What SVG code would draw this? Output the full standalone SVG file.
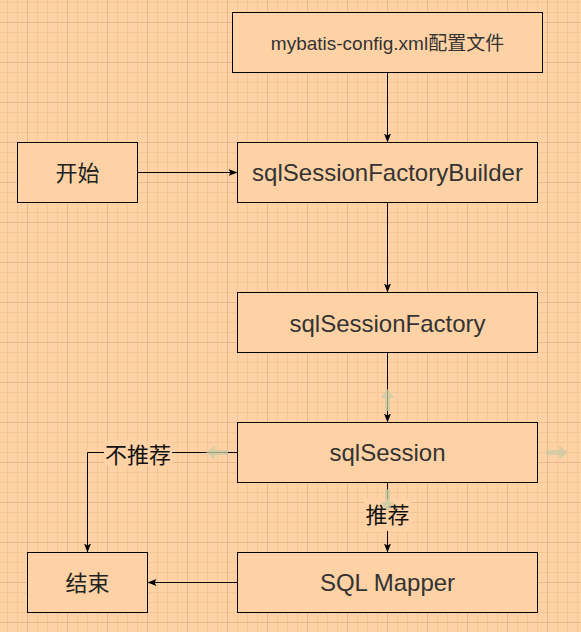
<svg xmlns="http://www.w3.org/2000/svg" width="581" height="632" viewBox="0 0 581 632">
  <defs>
    <pattern id="grid" patternUnits="userSpaceOnUse" x="-13" y="-18" width="40" height="40">
      <rect width="40" height="40" fill="#FED2A4"/>
      <rect x="10" y="0" width="1" height="40" fill="#F4C797"/>
      <rect x="20" y="0" width="1" height="40" fill="#F4C797"/>
      <rect x="30" y="0" width="1" height="40" fill="#F4C797"/>
      <rect x="0" y="10" width="40" height="1" fill="#F4C797"/>
      <rect x="0" y="20" width="40" height="1" fill="#F4C797"/>
      <rect x="0" y="30" width="40" height="1" fill="#F4C797"/>
      <rect x="0" y="0" width="1" height="40" fill="#E6B88B"/>
      <rect x="0" y="0" width="40" height="1" fill="#E6B88B"/>
    </pattern>
    <marker id="arrow" markerUnits="userSpaceOnUse" markerWidth="10" markerHeight="8" refX="9" refY="3.5" orient="auto">
      <path d="M0,0 L9,3.5 L0,7 L2,3.5 Z" fill="#000"/>
    </marker>
    <path id="hover" d="M-11,-2.5 H2 V-7 L11,0 L2,7 V2.5 H-11 Z"/>
  </defs>
  <style>
    .box { fill: #FED2A4; stroke: #000; stroke-width: 1; }
    .node-text { font-family: "Liberation Sans", "Noto Sans CJK SC", sans-serif; font-size: 24px; fill: #333; text-anchor: middle; }
    .cjk-text { font-family: "Noto Sans CJK SC", "Liberation Sans", sans-serif; font-size: 22px; fill: #222; text-anchor: middle; }
    .edge { fill: none; stroke: #000; stroke-width: 1; marker-end: url(#arrow); }
    .label-bg { fill: #FED2A4; }
    .label { font-family: "Noto Sans CJK SC", "Liberation Sans", sans-serif; font-size: 22px; fill: #111; text-anchor: middle; }
    .hover { fill: #C9CBA6; opacity: 0.75; }
  </style>

  <rect x="0" y="0" width="581" height="632" fill="url(#grid)"/>

  <g id="connectors">
    <path class="edge" d="M387.5,72.5 V142.5"/>
    <path class="edge" d="M137.5,172.5 H237.5"/>
    <path class="edge" d="M387.5,202.5 V292.5"/>
    <path class="edge" d="M387.5,352.5 V422.5"/>
    <path class="edge" d="M387.5,482.5 V552.5"/>
    <path class="edge" d="M237.5,452.5 H87.5 V552.5"/>
    <path class="edge" d="M237.5,582.5 H147.5"/>
    <g id="label-not-recommended">
      <rect class="label-bg" x="104" y="441" width="68" height="25"/>
      <text class="label" x="138" y="463">不推荐</text>
    </g>
    <g id="label-recommended">
      <rect class="label-bg" x="364" y="499" width="47" height="32"/>
      <text class="label" x="387.5" y="523">推荐</text>
    </g>
  </g>

  <g id="node-config">
    <rect class="box" x="232.5" y="12.5" width="310" height="60"/>
    <text class="node-text" x="387.5" y="50" style="font-size:19px">mybatis-config.xml配置文件</text>
  </g>
  <g id="node-start">
    <rect class="box" x="17.5" y="142.5" width="120" height="60"/>
    <text class="cjk-text" x="77.5" y="180.5">开始</text>
  </g>
  <g id="node-builder">
    <rect class="box" x="237.5" y="142.5" width="300" height="60"/>
    <text class="node-text" x="387.5" y="181">sqlSessionFactoryBuilder</text>
  </g>
  <g id="node-factory">
    <rect class="box" x="237.5" y="292.5" width="300" height="60"/>
    <text class="node-text" x="387.5" y="331.5">sqlSessionFactory</text>
  </g>
  <g id="node-session">
    <rect class="box" x="237.5" y="422.5" width="300" height="60"/>
    <text class="node-text" x="387.5" y="461">sqlSession</text>
  </g>
  <g id="node-mapper">
    <rect class="box" x="237.5" y="552.5" width="300" height="60"/>
    <text class="node-text" x="387.5" y="591">SQL Mapper</text>
  </g>
  <g id="node-end">
    <rect class="box" x="27.5" y="552.5" width="120" height="60"/>
    <text class="cjk-text" x="87.5" y="590.5">结束</text>
  </g>

  <g id="hover-arrows">
    <use href="#hover" class="hover" transform="translate(387.5,400) rotate(-90)"/>
    <use href="#hover" class="hover" transform="translate(217,452.5) rotate(180)"/>
    <use href="#hover" class="hover" transform="translate(557,452.5)"/>
    <use href="#hover" class="hover" transform="translate(387.5,500) rotate(90)"/>
  </g>
</svg>
